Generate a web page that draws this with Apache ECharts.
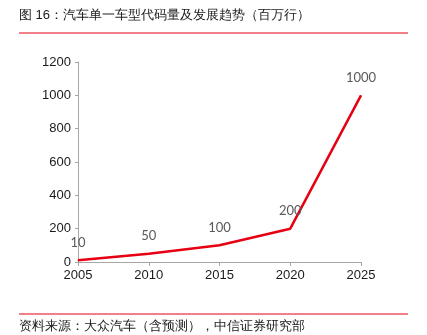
<!DOCTYPE html>
<html><head><meta charset="utf-8">
<script src="https://cdn.jsdelivr.net/npm/echarts@6/dist/echarts.min.js"></script>
<style>html,body{margin:0;padding:0;background:#fff}#c{width:427px;height:335px}</style>
</head><body><div id="c"></div>
<script>
var years = ['2005','2010','2015','2020','2025'];
var codeLines = [10, 50, 100, 200, 1000];
var titleText = '图 16：汽车单一车型代码量及发展趋势（百万行）';
var sourceText = '资料来源：大众汽车（含预测），中信证券研究部';
var chart = echarts.init(document.getElementById('c'));
var cjk = '"Liberation Sans","Noto Sans CJK SC",sans-serif';
chart.setOption({
  animation:false,
  grid:{left:78,right:66,top:62,bottom:73,containLabel:false},
  xAxis:{type:'category',data:years,boundaryGap:false,
    axisLine:{lineStyle:{color:'#a6a6a6',width:1}},
    axisTick:{show:true,alignWithLabel:true,inside:false,length:4,lineStyle:{color:'#a6a6a6'}},
    axisLabel:{color:'#1a1a1a',fontSize:13,fontFamily:'Liberation Sans',margin:7}},
  yAxis:{type:'value',min:0,max:1200,interval:200,
    axisLine:{show:true,lineStyle:{color:'#a6a6a6',width:1}},
    axisTick:{show:true,length:3,lineStyle:{color:'#a6a6a6'}},
    splitLine:{show:false},
    axisLabel:{color:'#1a1a1a',fontSize:13,fontFamily:'Liberation Sans',margin:7,formatter:function(v){return String(v);}}},
  series:[{type:'line',data:codeLines,smooth:false,symbol:'circle',symbolSize:1,
    itemStyle:{color:'#e60012'},
    lineStyle:{color:'#e60012',width:2.5},
    label:{show:true,position:'top',distance:11,color:'#595959',fontSize:13,fontFamily:'Lato'}}],
  graphic:[
    {type:'text',left:19,top:9,style:{text:titleText,fontSize:13,fill:'#1a1a1a',font:'13px '+cjk}},
    {type:'line',shape:{x1:19,y1:33,x2:408,y2:33},style:{stroke:'#e60012',lineWidth:1}},
    {type:'line',shape:{x1:19,y1:314,x2:408,y2:314},style:{stroke:'#e60012',lineWidth:1}},
    {type:'text',left:19,top:320,style:{text:sourceText,fontSize:13,fill:'#1a1a1a',font:'13px '+cjk}}
  ]
});
</script></body></html>
